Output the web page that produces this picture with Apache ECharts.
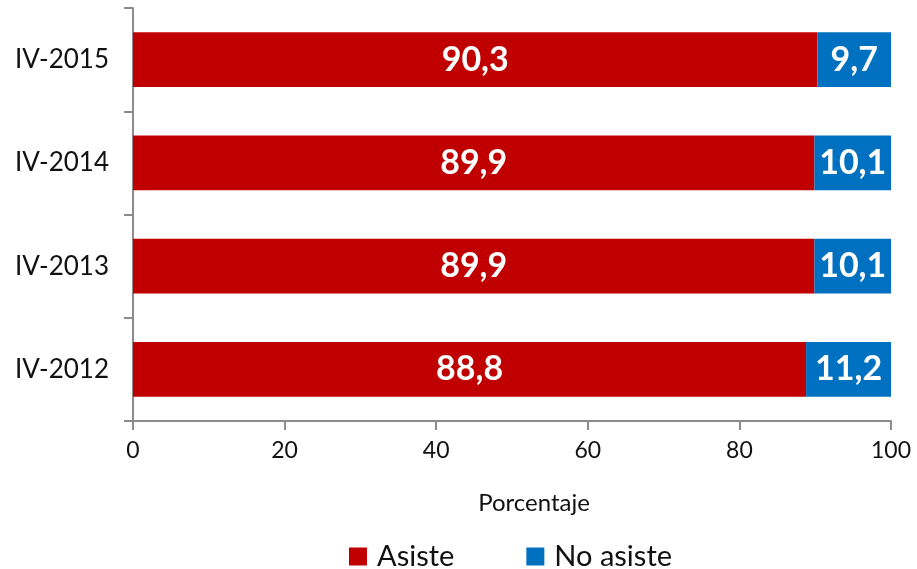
<!DOCTYPE html>
<html><head><meta charset="utf-8">
<script src="https://cdn.jsdelivr.net/npm/echarts@6/dist/echarts.min.js"></script>
<style>html,body{margin:0;padding:0;background:#fff}#c{width:917px;height:569px}</style>
</head><body><div id="c"></div>
<script>
const categories = ['IV-2012', 'IV-2013', 'IV-2014', 'IV-2015'];
const asiste = [88.8, 89.9, 89.9, 90.3];
const noAsiste = [11.2, 10.1, 10.1, 9.7];
const xTicks = [0, 20, 40, 60, 80, 100];
const F = 'Lato';
const chart = echarts.init(document.getElementById('c'), null, {renderer: 'canvas'});
const lbl = {show: true, position: 'inside', color: '#fff', fontFamily: F, fontWeight: 'bold', fontSize: 34,
  formatter: p => String(p.value).replace('.', ',')};
chart.setOption({
  animation: false,
  textStyle: {fontFamily: F},
  grid: {left: 133, right: 26, top: 8, bottom: 148, containLabel: false},
  legend: {top: 537, left: 344, itemWidth: 18, itemHeight: 18, itemGap: 72,
    icon: 'rect', textStyle: {fontFamily: F, fontSize: 29, color: '#111', padding: [0, 0, 0, 5]},
    data: ['Asiste', 'No asiste']},
  xAxis: {type: 'value', min: 0, max: 100, interval: 20,
    name: 'Porcentaje', nameLocation: 'middle', nameGap: 70,
    nameTextStyle: {fontFamily: F, fontSize: 24, color: '#111', padding: [0, 0, 0, 44]},
    axisLine: {show: true, lineStyle: {color: '#8c8c8c', width: 2}},
    axisTick: {show: true, length: 9, lineStyle: {color: '#8c8c8c', width: 2}},
    splitLine: {show: false},
    axisLabel: {fontFamily: F, fontSize: 23, color: '#111', margin: 18,
      formatter: v => xTicks.includes(v) ? String(v) : ''}},
  yAxis: {type: 'category', data: categories,
    axisLine: {show: true, lineStyle: {color: '#8c8c8c', width: 2}},
    axisTick: {show: true, length: 9, lineStyle: {color: '#8c8c8c', width: 2}},
    axisLabel: {fontFamily: F, fontSize: 26, color: '#111', margin: 24}},
  series: [
    {name: 'Asiste', type: 'bar', stack: 't', data: asiste, barWidth: '53%',
      itemStyle: {color: '#C00000'}, label: lbl},
    {name: 'No asiste', type: 'bar', stack: 't', data: noAsiste, barWidth: '53%',
      itemStyle: {color: '#0070C0'}, label: lbl}
  ]
});
</script></body></html>
